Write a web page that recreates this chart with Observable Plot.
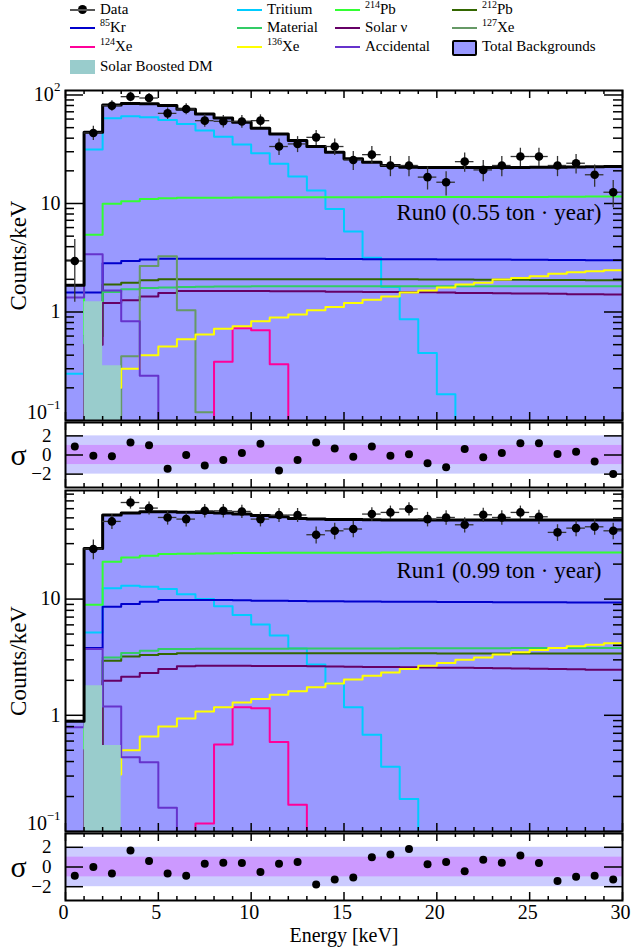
<!DOCTYPE html>
<html><head><meta charset="utf-8">
<script src="https://cdn.jsdelivr.net/npm/d3@7"></script>
<script src="https://cdn.jsdelivr.net/npm/@observablehq/plot@0.6"></script>
<style>
body{margin:0;background:#fff;font-family:"Liberation Serif","Times New Roman",serif;}
#wrap{position:relative;width:631px;height:947px;overflow:hidden;background:#fff}
.lg{position:absolute;font-size:15px;line-height:15px;color:#000;white-space:nowrap}
.lg sup{font-size:10px;vertical-align:6px;line-height:0}
.sym{position:absolute}
</style></head><body><div id="wrap"></div>
<script>
// ---------------- data ----------------
const binEdges = [0,1,2,3,4,5,6,7,8,9,10,11,12,13,14,15,16,17,18,19,20,21,22,23,24,25,26,27,28,29,30];
const energy = [0.5,1.5,2.5,3.5,4.5,5.5,6.5,7.5,8.5,9.5,10.5,11.5,12.5,13.5,14.5,15.5,16.5,17.5,18.5,19.5,20.5,21.5,22.5,23.5,24.5,25.5,26.5,27.5,28.5,29.5];

// Run0
const tritium0 = [0.27,31.4,61,63.6,62.3,58.9,54,47,41.3,34.9,29,23.2,17.7,13.2,8.9,5.53,3.17,1.70,0.857,0.42,0.175,0,0,0,0,0,0,0,0,0];
const kr0 = [1.51,1.51,2.82,2.95,3.04,3.1,3.1,3.1,3.1,3.1,3.1,3.1,3.09,3.09,3.08,3.08,3.07,3.07,3.06,3.06,3.05,3.05,3.04,3.04,3.03,3.03,3.02,3.01,3.0,3.0];
const pb214_0 = [0,5.15,9.94,10.5,11.0,11.2,11.3,11.3,11.3,11.35,11.35,11.4,11.4,11.4,11.4,11.4,11.4,11.45,11.45,11.45,11.5,11.5,11.5,11.5,11.5,11.5,11.55,11.55,11.6,11.6];
const pb212_0 = [0,0.6,1.79,1.86,1.96,2.0,2.0,2.0,2.0,2.0,2.0,2.0,2.0,2.0,2.0,2.0,2.0,2.0,2.0,1.99,1.99,1.99,1.98,1.98,1.98,1.97,1.97,1.97,1.96,1.96];
const material0 = [0,0.6,1.53,1.62,1.66,1.68,1.70,1.71,1.72,1.72,1.73,1.73,1.73,1.73,1.73,1.73,1.73,1.73,1.73,1.73,1.73,1.73,1.73,1.73,1.73,1.73,1.73,1.73,1.73,1.73];
const solarnu0 = [0,0.5,1.21,1.28,1.39,1.50,1.56,1.56,1.56,1.56,1.56,1.55,1.55,1.55,1.54,1.54,1.53,1.53,1.52,1.52,1.51,1.50,1.50,1.49,1.48,1.48,1.47,1.46,1.46,1.45];
const xe127_0 = [0,0,0.05,0.39,2.65,3.27,1.04,0.119,0,0,0,0,0,0,0,0,0,0,0,0,0,0,0,0,0,0,0,0,0,0];
const xe124_0 = [0,0,0,0,0,0,0,0,0.347,0.71,0.68,0.33,0,0,0,0,0,0,0,0,0,0,0,0,0,0,0,0,0,0];
const xe136_0 = [0,0,0.2,0.30,0.40,0.48,0.56,0.62,0.70,0.74,0.82,0.89,0.95,1.04,1.11,1.21,1.30,1.39,1.51,1.58,1.68,1.79,1.86,1.99,2.06,2.14,2.25,2.32,2.38,2.42];
const accidental0 = [1.36,3.4,1.58,0.82,0.258,0,0,0,0,0,0,0,0,0,0,0,0,0,0,0,0,0,0,0,0,0,0,0,0,0];
const total0 = [1.76,45.3,80.9,83.7,83,80,73.7,66.8,61.4,56,49.3,43.8,38,33.5,29.6,25.8,24,22.4,21.6,21.5,21.5,21.5,21.5,21.5,21.5,21.6,21.6,21.7,21.8,21.9];
const dm0 = [0,1.24,0.32,0,0,0,0,0,0,0,0,0,0,0,0,0,0,0,0,0,0,0,0,0,0,0,0,0,0,0];
const data0 = [2.95,44.7,79.7,96.5,93.8,67.7,74.3,58,57.2,57,58,33.5,35.4,40.7,33.5,25.2,28.2,22.4,22.4,17.5,15.7,24.3,20.4,22.4,27.1,27.1,22.4,23.5,18.4,12.7];
const resid0 = [0.9,-0.07,-0.14,1.31,1.03,-1.45,0,-1.1,-0.52,0.2,1.17,-1.62,-0.52,1.31,0.69,-0.17,0.9,-0.07,0.07,-0.86,-1.28,0.62,-0.24,0.2,1.24,1.24,0.1,0.34,-0.69,-2.0];

// Run1
const tritium1 = [0,5.17,12.4,13.0,12.8,12.2,11.0,10.0,8.66,7.29,6.03,4.85,3.75,2.73,1.88,1.17,0.68,0.36,0.19,0,0,0,0,0,0,0,0,0,0,0];
const kr1 = [0,3.8,8.6,9.06,9.5,9.8,9.8,9.8,9.8,9.75,9.7,9.7,9.65,9.6,9.6,9.55,9.55,9.5,9.5,9.5,9.45,9.45,9.45,9.4,9.4,9.4,9.4,9.35,9.35,9.35];
const pb214_1 = [0,8.95,21,22.8,23.6,24.4,24.6,24.7,24.8,24.9,24.9,25,25,25,25.1,25.1,25.1,25.2,25.2,25.2,25.2,25.2,25.2,25.2,25.2,25.2,25.2,25.2,25.2,25.2];
const pb212_1 = [0,0.5,2.95,3.2,3.3,3.37,3.42,3.42,3.42,3.42,3.42,3.42,3.42,3.42,3.42,3.42,3.42,3.42,3.42,3.42,3.41,3.41,3.41,3.41,3.4,3.4,3.4,3.4,3.4,3.4];
const material1 = [0,0.5,3.15,3.44,3.6,3.72,3.72,3.73,3.73,3.74,3.74,3.74,3.75,3.75,3.75,3.76,3.76,3.76,3.77,3.77,3.77,3.78,3.78,3.78,3.79,3.79,3.79,3.8,3.8,3.8];
const solarnu1 = [0,0.5,1.98,2.15,2.31,2.5,2.64,2.67,2.67,2.67,2.66,2.66,2.65,2.64,2.63,2.62,2.61,2.6,2.59,2.58,2.57,2.56,2.55,2.54,2.53,2.52,2.5,2.49,2.47,2.46];
const xe127_1 = [0,0,0,0,0,0,0,0,0,0,0,0,0,0,0,0,0,0,0,0,0,0,0,0,0,0,0,0,0,0];
const xe124_1 = [0,0,0,0,0,0,0,0.117,0.56,1.17,1.15,0.59,0.17,0,0,0,0,0,0,0,0,0,0,0,0,0,0,0,0,0];
const xe136_1 = [0,0,0.31,0.50,0.656,0.80,0.94,1.08,1.17,1.29,1.38,1.5,1.61,1.74,1.88,2.03,2.19,2.34,2.5,2.67,2.82,3.0,3.15,3.33,3.48,3.65,3.8,3.92,4.05,4.16];
const accidental1 = [0.79,3.72,1.19,0.435,0.395,0.16,0,0,0,0,0,0,0,0,0,0,0,0,0,0,0,0,0,0,0,0,0,0,0,0];
const total1 = [0.89,27.3,52.9,55,56.4,56.4,56,55.5,55,54,52.5,51,49.5,48.8,48.5,48.3,48.2,48,48,48,48,48,48,48,48,48,48,48,48,48];
const dm1 = [0,1.8,0.55,0,0,0,0,0,0,0,0,0,0,0,0,0,0,0,0,0,0,0,0,0,0,0,0,0,0,0];
const data1 = [0,27,46.6,67.8,60.7,50.4,48.8,57.5,57.5,56.8,48.8,52.9,52.9,35.8,38.7,40.1,53.9,55.7,59.6,48.8,50.4,43.6,53.2,50.4,55.7,51.1,37.5,40.8,41.9,38.7];
const resid1 = [-0.9,0,-0.67,1.67,0.6,-0.67,-0.9,0.33,0.43,0.4,-0.5,0.33,0.5,-1.77,-1.27,-1.07,1.0,1.27,1.83,0.27,0.5,-0.43,0.73,0.43,1.17,0.4,-1.43,-1.0,-0.9,-1.27];

// ticks & labels
const xMajor = [0,5,10,15,20,25,30];
const xMinor = [1,2,3,4,6,7,8,9,11,12,13,14,16,17,18,19,21,22,23,24,26,27,28,29];
const yMajorTop = [0.1,1,10,100];
const yMinorTop = [0.2,0.3,0.4,0.5,0.6,0.7,0.8,0.9,2,3,4,5,6,7,8,9,20,30,40,50,60,70,80,90];
const yMajorBot = [0.1,1,10];
const yMinorBot = [0.2,0.3,0.4,0.5,0.6,0.7,0.8,0.9,2,3,4,5,6,7,8,9,20,30,40,50,60,70,80];
const yLabelsTop = [{v:100,base:"10",sup:"2"},{v:10,base:"10",sup:""},{v:1,base:"1",sup:""},{v:0.1,base:"10",sup:"\u22121"}];
const yLabelsBot = [{v:10,base:"10",sup:""},{v:1,base:"1",sup:""},{v:0.1,base:"10",sup:"\u22121"}];
const residTicks = [-2,0,2];
const residLabels = [{v:2,t:"2"},{v:0,t:"0"},{v:-2,t:"\u22122"}];
const bands = [{lo:-2,hi:2,c:"#ccccff"},{lo:-1,hi:1,c:"#cc99ff"}];

const colors = {
  tritium:"#00ccff", kr:"#0000cc", pb214:"#33ff33", pb212:"#336600", material:"#33cc66",
  solarnu:"#660066", xe127:"#669966", xe124:"#ff0099", xe136:"#ffff00", accidental:"#6633cc",
  total:"#9999ff", dm:"#99cccc"
};

// ---------------- helpers ----------------
const FONT = '"Liberation Serif","Times New Roman",serif';
const FLOOR = 1e-3;
const W = 631, ML = 65, MR = 9, FW = W - ML - MR;
function steps(vals){
  const pts = vals.map((v,i)=>({x:binEdges[i], y: v>0 ? v : FLOOR}));
  pts.push({x:binEdges[vals.length], y:pts[pts.length-1].y});
  return pts;
}
function pointsOf(vals){
  return vals.map((v,i)=>({e:energy[i], v, lo: Math.max(v-Math.sqrt(v), FLOOR), hi: v+Math.sqrt(v)})).filter(d=>d.v>0);
}
function xTicks(H){
  const s = {stroke:"black", strokeWidth:1.5};
  return [
    Plot.ruleX(xMinor, {x:d=>d, insetTop:H-4, ...s}),
    Plot.ruleX(xMajor, {x:d=>d, insetTop:H-8, ...s}),
    Plot.ruleX(xMinor, {x:d=>d, insetBottom:H-4, ...s}),
    Plot.ruleX(xMajor, {x:d=>d, insetBottom:H-8, ...s})
  ];
}
function yTicks(major, minor, majLen, minLen){
  const s = {stroke:"black", strokeWidth:1.5};
  const out = [
    Plot.ruleY(major, {y:d=>d, insetRight:FW-majLen, ...s}),
    Plot.ruleY(major, {y:d=>d, insetLeft:FW-majLen, ...s})
  ];
  if (minor) out.push(
    Plot.ruleY(minor, {y:d=>d, insetRight:FW-minLen, ...s}),
    Plot.ruleY(minor, {y:d=>d, insetLeft:FW-minLen, ...s})
  );
  return out;
}
function yLabelMarks(labels, ymin){
  return labels.flatMap(l=>{
    const w = l.sup ? l.sup.length*6.8 : 0;
    const lift = l.v === ymin ? -8 : 0;
    const m = [Plot.text([l], {x:()=>0, y:"v", text:"base", textAnchor:"end", lineAnchor:"middle", dx:-5-w, dy:lift, fontSize:20, fontFamily:FONT, fill:"black"})];
    if (l.sup) m.push(Plot.text([l], {x:()=>0, y:"v", text:"sup", textAnchor:"end", lineAnchor:"middle", dx:-5, dy:lift-8, fontSize:13, fontFamily:FONT, fill:"black"}));
    return m;
  });
}
const baseStyle = {fontFamily:FONT, background:"transparent", overflow:"visible"};

function mainPanel(o){
  const H = o.frameH;
  const comps = [
    [o.tritium, colors.tritium],[o.kr, colors.kr],[o.pb214, colors.pb214],[o.pb212, colors.pb212],
    [o.material, colors.material],[o.solarnu, colors.solarnu],[o.xe127, colors.xe127],
    [o.xe124, colors.xe124],[o.xe136, colors.xe136],[o.accidental, colors.accidental]
  ];
  const pts = pointsOf(o.data);
  return Plot.plot({
    width: W, height: H + o.mt + o.mb, marginLeft: ML, marginRight: MR, marginTop: o.mt, marginBottom: o.mb,
    style: baseStyle,
    x: {domain:[0,30], axis:null},
    y: {type:"log", domain:o.domain, axis:null},
    marks: [
      Plot.areaY(steps(o.total), {x:"x", y1:FLOOR, y2:"y", curve:"step-after", fill:colors.total, clip:true}),
      ...comps.map(([v,c])=>Plot.line(steps(v), {x:"x", y:"y", curve:"step-after", stroke:c, strokeWidth:2, clip:true})),
      Plot.areaY(steps(o.dm), {x:"x", y1:FLOOR, y2:"y", curve:"step-after", fill:colors.dm, clip:true}),
      Plot.line(steps(o.total), {x:"x", y:"y", curve:"step-after", stroke:"black", strokeWidth:3, clip:true}),
      ...xTicks(H),
      ...yTicks(o.yMajor, o.yMinor, 18, 9),
      Plot.ruleX(pts, {x:"e", y1:"lo", y2:"hi", stroke:"#333", strokeWidth:1.3, clip:true}),
      Plot.ruleY(pts, {y:"v", x1:d=>d.e-0.5, x2:d=>d.e+0.5, stroke:"#333", strokeWidth:1.3, clip:true}),
      Plot.dot(pts, {x:"e", y:"v", r:4.3, fill:"black", clip:true}),
      Plot.frame({stroke:"black", strokeWidth:2}),
      ...yLabelMarks(o.yLabels, o.domain[0]),
      Plot.text(["Counts/keV"], {frameAnchor:"left", dx:-47, rotate:-90, textAnchor:"middle", lineAnchor:"middle", fontSize:23, fontFamily:FONT, fill:"black"}),
      Plot.text([o.label], {frameAnchor:"top-right", dx:-21, dy:o.labelDy, textAnchor:"end", lineAnchor:"middle", fontSize:23, fontFamily:FONT, fill:"black"})
    ]
  });
}

function residPanel(o){
  const H = o.frameH;
  const pts = o.resid.map((r,i)=>({e:energy[i], r}));
  const marks = [
    Plot.rect(bands, {x1:()=>0, x2:()=>30, y1:"lo", y2:"hi", fill:"c"}),
    ...xTicks(H),
    ...yTicks(residTicks, null, 18, 9),
    Plot.dot(pts, {x:"e", y:"r", r:4, fill:"black", clip:true}),
    Plot.frame({stroke:"black", strokeWidth:2}),
    Plot.text(residLabels, {x:()=>0, y:"v", text:"t", textAnchor:"end", lineAnchor:"middle", dx:-14, fontSize:19, fontFamily:FONT, fill:"black"}),
    Plot.text(["\u03c3"], {frameAnchor:"left", dx:-47, textAnchor:"middle", lineAnchor:"middle", fontSize:30, fontFamily:FONT, fill:"black"})
  ];
  if (o.xlabels) {
    marks.push(Plot.text(xMajor, {x:d=>d, frameAnchor:"bottom", dy:12, dx:-2, text:d=>String(d), lineAnchor:"middle", fontSize:20, fontFamily:FONT, fill:"black"}));
    marks.push(Plot.text(["Energy [keV]"], {frameAnchor:"bottom", dy:35, textAnchor:"middle", lineAnchor:"middle", fontSize:20, fontFamily:FONT, fill:"black"}));
  }
  return Plot.plot({
    width: W, height: H + o.mt + o.mb, marginLeft: ML, marginRight: MR, marginTop: o.mt, marginBottom: o.mb,
    style: baseStyle,
    x: {domain:[0,30], axis:null},
    y: {domain:[-3.4,3.4], axis:null},
    color: {type:"identity"},
    marks
  });
}

// ---------------- layout ----------------
const wrap = document.getElementById("wrap");
function place(el, top){ el.style.position="absolute"; el.style.left="0px"; el.style.top=top+"px"; wrap.appendChild(el); }

place(mainPanel({frameH:330, mt:4, mb:2, domain:[0.1,110], yMajor:yMajorTop, yMinor:yMinorTop, yLabels:yLabelsTop,
  tritium:tritium0, kr:kr0, pb214:pb214_0, pb212:pb212_0, material:material0, solarnu:solarnu0, xe127:xe127_0,
  xe124:xe124_0, xe136:xe136_0, accidental:accidental0, total:total0, dm:dm0, data:data0,
  label:"Run0 (0.55 ton \u00b7 year)", labelDy:122}), 86);
place(residPanel({frameH:65, mt:1, mb:1, resid:resid0}), 421);
place(mainPanel({frameH:341, mt:2, mb:2, domain:[0.1,86], yMajor:yMajorBot, yMinor:yMinorBot, yLabels:yLabelsBot,
  tritium:tritium1, kr:kr1, pb214:pb214_1, pb212:pb212_1, material:material1, solarnu:solarnu1, xe127:xe127_1,
  xe124:xe124_1, xe136:xe136_1, accidental:accidental1, total:total1, dm:dm1, data:data1,
  label:"Run1 (0.99 ton \u00b7 year)", labelDy:80}), 488);
place(residPanel({frameH:67, mt:2, mb:47, resid:resid1, xlabels:true}), 831);

// ---------------- legend ----------------
const legendItems = [
  {col:0,row:0,type:"data",html:"Data"},
  {col:1,row:0,type:"line",c:colors.tritium,html:"Tritium"},
  {col:2,row:0,type:"line",c:colors.pb214,html:"<sup>214</sup>Pb"},
  {col:3,row:0,type:"line",c:colors.pb212,html:"<sup>212</sup>Pb"},
  {col:0,row:1,type:"line",c:colors.kr,html:"<sup>85</sup>Kr"},
  {col:1,row:1,type:"line",c:colors.material,html:"Material"},
  {col:2,row:1,type:"line",c:colors.solarnu,html:"Solar \u03bd"},
  {col:3,row:1,type:"line",c:colors.xe127,html:"<sup>127</sup>Xe"},
  {col:0,row:2,type:"line",c:colors.xe124,html:"<sup>124</sup>Xe"},
  {col:1,row:2,type:"line",c:colors.xe136,html:"<sup>136</sup>Xe"},
  {col:2,row:2,type:"line",c:colors.accidental,html:"Accidental"},
  {col:3,row:2,type:"box",c:colors.total,border:true,html:"Total Backgrounds"},
  {col:0,row:3,type:"box",c:colors.dm,border:false,html:"Solar Boosted DM"}
];
const colX = [70,237,335,452];
const rowY = [10,28,47,67];
for (const it of legendItems){
  const x = colX[it.col], y = rowY[it.row];
  const s = document.createElement("div"); s.className="sym";
  if (it.type==="line"){
    Object.assign(s.style,{left:x+"px",top:(y-1)+"px",width:"25px",height:"2px",background:it.c});
  } else if (it.type==="data"){
    Object.assign(s.style,{left:x+"px",top:(y-1)+"px",width:"25px",height:"1.5px",background:"#555"});
    const d = document.createElement("div"); d.className="sym";
    Object.assign(d.style,{left:(x+8)+"px",top:(y-5)+"px",width:"9px",height:"9px",borderRadius:"50%",background:"#000"});
    wrap.appendChild(d);
  } else {
    Object.assign(s.style,{left:x+"px",top:(y-7)+"px",width:it.border?"21px":"25px",height:it.border?"12px":"14px",background:it.c,border:it.border?"2px solid #000":"none",borderRadius:it.border?"2px":"0"});
  }
  wrap.appendChild(s);
  const t = document.createElement("div"); t.className="lg";
  t.innerHTML = it.html;
  Object.assign(t.style,{left:(x+30)+"px",top:(y-8)+"px"});
  wrap.appendChild(t);
}
</script></body></html>
